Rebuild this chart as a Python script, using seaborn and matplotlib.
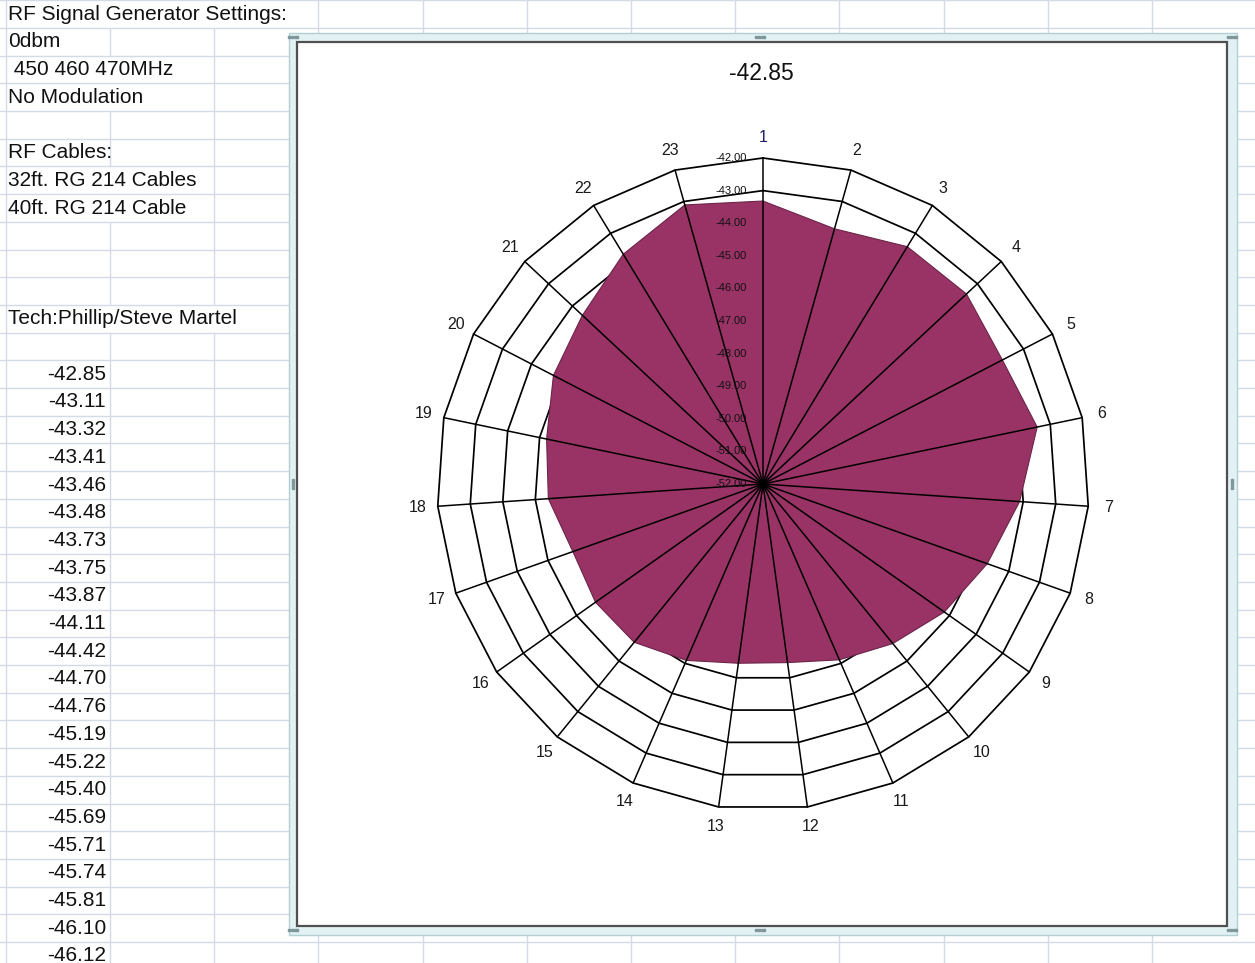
import numpy as np
import pandas as pd
import matplotlib
matplotlib.use("Agg")
import matplotlib.pyplot as plt
from matplotlib.patches import Rectangle
import seaborn as sns

# --- data -------------------------------------------------------------
# radar values per direction 1..23 (dBm)
spokes = [str(i) for i in range(1, 24)]
readings = [-43.32, -43.87, -43.48, -43.46, -43.73, -43.41, -44.11, -44.70,
            -45.19, -45.69, -46.12, -46.47, -46.45, -46.10, -45.74, -45.71,
            -45.81, -45.40, -45.22, -44.76, -44.42, -43.75, -43.11]
axis_min, axis_max = -52, -42
chart_title = "-42.85"

# spreadsheet cells on the left
header_cells = {
    0: "RF Signal Generator Settings:",
    1: "0dbm",
    2: " 450 460 470MHz",
    3: "No Modulation",
    5: "RF Cables:",
    6: "32ft. RG 214 Cables",
    7: "40ft. RG 214 Cable",
    11: "Tech:Phillip/Steve Martel",
}
sheet_values = ["-42.85", "-43.11", "-43.32", "-43.41", "-43.46", "-43.48",
                "-43.73", "-43.75", "-43.87", "-44.11", "-44.42", "-44.70",
                "-44.76", "-45.19", "-45.22", "-45.40", "-45.69", "-45.71",
                "-45.74", "-45.81", "-46.10", "-46.12"]
first_value_row = 13

# --- style ------------------------------------------------------------
sns.set_theme(style="white")
plt.rcParams['font.family'] = ['Liberation Sans', 'DejaVu Sans']

W, H = 1255, 963
fig = plt.figure(figsize=(W / 100, H / 100), dpi=100)
fig.patch.set_facecolor("white")

# background "sheet" in pixel coordinates
bg = fig.add_axes([0, 0, 1, 1])
bg.set_xlim(0, W)
bg.set_ylim(H, 0)
bg.axis("off")

grid_c = "#d4dae6"
row_h, row0 = 27.7, 0.3
col_w, col0 = 104.2, 5.8
rows = [row0 + row_h * k for k in range(37)]
cols = [col0 + col_w * k for k in range(13)]

for y in rows:
    bg.plot([0, W], [y, y], color=grid_c, lw=1, zorder=1)

# text overflowing into neighbour cells hides the gridline
hidden = {0: [1, 2], 2: [1], 3: [1], 6: [1], 7: [1], 11: [1, 2]}
for r in range(len(rows) - 1):
    for ci, x in enumerate(cols):
        if ci in hidden.get(r, []):
            continue
        bg.plot([x, x], [rows[r], rows[r + 1]], color=grid_c, lw=1, zorder=1)

txt_size = 15
for r, s in header_cells.items():
    bg.text(8, row0 + row_h * (r + 0.5), s, ha="left", va="center",
            fontsize=txt_size, color="#111111", zorder=2)
for i, s in enumerate(sheet_values):
    bg.text(106, row0 + row_h * (first_value_row + i + 0.5), s, ha="right",
            va="center", fontsize=txt_size, color="#111111", zorder=2)

# chart object with selection frame
bg.add_patch(Rectangle((289, 33), 948, 902, facecolor="#e2f1f3",
                       edgecolor="#b2cfd4", lw=1, zorder=3))
bg.add_patch(Rectangle((297, 42), 930, 884, facecolor="white",
                       edgecolor="#505050", lw=1.6, zorder=4))
for hx, hy in [(293, 37), (1232, 37), (293, 930), (1232, 930),
               (760, 37), (760, 930), (293, 484), (1232, 484)]:
    bg.plot([hx - 4, hx - 1.5, hx + 1.5, hx + 4] if hy in (37, 930) else [hx] * 4,
            [hy] * 4 if hy in (37, 930) else [hy - 4, hy - 1.5, hy + 1.5, hy + 4],
            ls="none", marker="s", ms=1.6, color="#7f969a", zorder=5)

bg.text(761, 74, chart_title, ha="center", va="center", fontsize=16.5,
        color="#111111", zorder=6)

# --- radar ------------------------------------------------------------
cx, cy, half = 763, 484, 400
px_per_db = 32.6
lim = half / px_per_db
ax = fig.add_axes([(cx - half) / W, (H - cy - half) / H, 2 * half / W, 2 * half / H])
ax.set_facecolor("none")
ax.set_xlim(-lim, lim)
ax.set_ylim(-lim, lim)
ax.set_aspect("equal")
ax.axis("off")

n = len(spokes)
theta = np.arange(n) * 2 * np.pi / n
levels = np.arange(axis_min, axis_max + 1)

ring_rows = []
for lv in levels[1:]:
    rr = lv - axis_min
    for t in np.append(theta, theta[0]):
        ring_rows.append({"x": rr * np.sin(t), "y": rr * np.cos(t), "level": lv})
df_rings = pd.DataFrame(ring_rows)
sns.lineplot(data=df_rings, x="x", y="y", units="level", estimator=None,
             sort=False, color="black", lw=1.25, legend=False, ax=ax, zorder=2)

rad = np.array(readings) - axis_min
fx = rad * np.sin(theta)
fy = rad * np.cos(theta)
ax.fill(fx, fy, facecolor="#993366", edgecolor="#6b2448", lw=0.8, zorder=3)

outer = axis_max - axis_min
for t in theta:
    ax.plot([0, outer * np.sin(t)], [0, outer * np.cos(t)], color="black",
            lw=1.1, zorder=4)

lab_r = outer + 0.62
for i, (t, s) in enumerate(zip(theta, spokes)):
    ax.text(lab_r * np.sin(t), lab_r * np.cos(t), s, ha="center", va="center",
            fontsize=11.5, color="#1c1c66" if i == 0 else "#1a1a1a", zorder=5)

for lv in levels:
    ax.text(-0.5, lv - axis_min, f"{lv:.2f}", ha="right", va="center",
            fontsize=8, color="#111111", zorder=5)

fig.savefig("out.png", dpi=100)
